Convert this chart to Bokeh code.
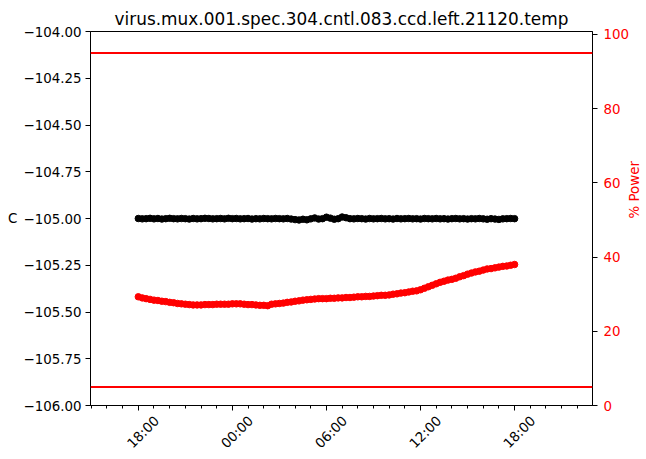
import math
from datetime import datetime, timedelta
from bokeh.plotting import figure
from bokeh.models import (LinearAxis, Range1d, Span, FixedTicker,
                          CustomJSTickFormatter, ColumnDataSource)
from bokeh.embed import file_html
from bokeh.resources import INLINE

title_text = "virus.mux.001.spec.304.cntl.083.ccd.left.21120.temp"

# one row per hour, 15-minute samples, 18:00 .. 18:00 next day
temp_c = [
    -105.000, -105.002, -105.001, -104.999,   # 18
    -105.002, -105.000, -105.003, -105.001,   # 19
    -104.999, -105.001, -105.002, -105.000,   # 20
    -105.001, -105.003, -105.000, -105.002,   # 21
    -105.001, -104.999, -105.000, -105.002,   # 22
    -105.001, -105.000, -105.002, -104.999,   # 23
    -105.001, -105.000, -105.002, -105.001,   # 00
    -105.000, -105.003, -105.001, -105.002,   # 01
    -105.000, -105.001, -105.002, -105.000,   # 02
    -105.001, -105.002, -105.000, -105.003,   # 03
    -105.006, -105.008, -105.004, -105.007,   # 04
    -105.002, -104.997, -105.003, -105.001,   # 05
    -104.993, -104.998, -105.004, -105.001,   # 06
    -104.992, -104.996, -105.001, -105.002,   # 07
    -105.000, -105.001, -105.003, -105.000,   # 08
    -105.002, -105.001, -105.000, -105.002,   # 09
    -105.001, -105.003, -105.000, -105.002,   # 10
    -105.001, -105.000, -105.002, -105.001,   # 11
    -105.003, -105.000, -105.001, -105.002,   # 12
    -105.000, -105.002, -105.001, -105.003,   # 13
    -105.001, -105.000, -105.002, -105.001,   # 14
    -105.003, -105.001, -105.002, -105.000,   # 15
    -105.002, -105.004, -105.001, -105.003,   # 16
    -105.005, -105.002, -105.001, -105.000,   # 17
    -105.001,                                 # 18
]

power_pct = [
    29.3, 29.0, 28.8, 28.6,   # 18
    28.4, 28.3, 28.1, 28.0,   # 19
    27.8, 27.7, 27.5, 27.4,   # 20
    27.3, 27.2, 27.1, 27.1,   # 21
    27.1, 27.2, 27.2, 27.2,   # 22
    27.3, 27.3, 27.3, 27.3,   # 23
    27.4, 27.4, 27.4, 27.3,   # 00
    27.2, 27.2, 27.1, 27.0,   # 01
    27.0, 26.9, 27.3, 27.4,   # 02
    27.5, 27.6, 27.8, 27.9,   # 03
    28.1, 28.2, 28.4, 28.5,   # 04
    28.6, 28.7, 28.8, 28.8,   # 05
    28.8, 28.9, 28.9, 29.0,   # 06
    29.0, 29.1, 29.1, 29.2,   # 07
    29.3, 29.3, 29.4, 29.4,   # 08
    29.5, 29.6, 29.7, 29.7,   # 09
    29.8, 30.0, 30.1, 30.3,   # 10
    30.4, 30.6, 30.8, 30.9,   # 11
    31.2, 31.6, 32.0, 32.4,   # 12
    32.8, 33.2, 33.5, 33.8,   # 13
    34.0, 34.3, 34.7, 35.0,   # 14
    35.4, 35.7, 36.0, 36.2,   # 15
    36.5, 36.8, 36.9, 37.1,   # 16
    37.3, 37.5, 37.6, 37.8,   # 17
    38.0,                     # 18
]

t0 = datetime(2021, 1, 20, 18, 0)
times = [t0 + timedelta(minutes=15 * i) for i in range(len(power_pct))]

power_limits = [5, 95]

temp_ticks = [-106.0, -105.75, -105.5, -105.25, -105.0, -104.75, -104.5, -104.25, -104.0]
temp_tick_labels = ["\u2212106.00", "\u2212105.75", "\u2212105.50", "\u2212105.25", "\u2212105.00",
                    "\u2212104.75", "\u2212104.50", "\u2212104.25", "\u2212104.00"]
power_ticks = [0, 20, 40, 60, 80, 100]
time_ticks = [t0 + timedelta(hours=h) for h in (0, 6, 12, 18, 24)]
time_tick_labels = ["18:00", "00:00", "06:00", "12:00", "18:00"]
time_minor = [t0 + timedelta(hours=h) for h in range(-3, 30)]

epoch = datetime(1970, 1, 1)
def ms(d):
    return (d - epoch).total_seconds() * 1000.0

FONT = "DejaVu Sans"
TICK_FS = "13.4px"

x_start = t0 - timedelta(hours=3.05)
x_end = t0 + timedelta(hours=24 + 4.97)

p = figure(x_axis_type="datetime", output_backend="svg", toolbar_location=None,
           frame_width=502, frame_height=374,
           min_border_left=90, min_border_right=54, min_border_top=31, min_border_bottom=54,
           x_range=Range1d(x_start, x_end), y_range=Range1d(-106.0, -104.0),
           title=title_text)
p.background_fill_color = "white"
p.border_fill_color = "white"
p.outline_line_color = "black"
p.outline_line_width = 1
p.grid.visible = False

p.title.text_font = FONT
p.title.text_font_size = "16.9px"
p.title.text_font_style = "normal"
p.title.align = "center"
p.title.text_color = "black"
p.title.standoff = 6

src = ColumnDataSource(dict(t=times, temp=temp_c, power=power_pct))

p.extra_y_ranges = {"power": Range1d(0, 100.8)}

for lim in power_limits:
    p.add_layout(Span(location=lim, dimension="width", y_range_name="power",
                      line_color="red", line_width=2))

p.scatter("t", "temp", source=src, size=6.5, color="black")
p.scatter("t", "power", source=src, size=6.5, color="red", y_range_name="power")

LOOKUP = "const i = tvals.indexOf(tick); return i >= 0 ? labs[i] : '';"

# x axis: ticks only (labels on a second axis so rotated labels are centred under ticks)
xa = p.xaxis[0]
xa.ticker = FixedTicker(ticks=[ms(d) for d in time_ticks], minor_ticks=[ms(d) for d in time_minor])
xa.formatter = CustomJSTickFormatter(code="return '';")
xa.major_label_text_font_size = "0px"
xa.major_label_standoff = 0

LABEL_SHIFT_H = 1.18
label_pos = [ms(d + timedelta(hours=LABEL_SHIFT_H)) for d in time_ticks]
xb = LinearAxis(ticker=FixedTicker(ticks=label_pos),
                formatter=CustomJSTickFormatter(args=dict(tvals=label_pos, labs=time_tick_labels), code=LOOKUP))
xb.axis_line_color = None
xb.major_tick_line_color = None
xb.minor_tick_line_color = None
xb.major_tick_out = 0
xb.major_tick_in = 0
xb.minor_tick_out = 0
xb.minor_tick_in = 0
xb.major_label_orientation = math.pi / 4
xb.major_label_standoff = 8
xb.major_label_text_font = FONT
xb.major_label_text_font_size = TICK_FS
xb.major_label_text_color = "black"
p.add_layout(xb, "below")

# left axis
ya = p.yaxis[0]
ya.ticker = FixedTicker(ticks=temp_ticks)
ya.formatter = CustomJSTickFormatter(args=dict(tvals=temp_ticks, labs=temp_tick_labels), code=LOOKUP)
ya.axis_label = "C"
ya.axis_label_orientation = "horizontal"

ra = LinearAxis(y_range_name="power", axis_label="% Power", ticker=FixedTicker(ticks=power_ticks))
ra.axis_label_orientation = math.pi / 2
p.add_layout(ra, "right")

for ax in (xa, ya, ra):
    ax.axis_line_color = "black"
    ax.major_tick_line_color = "black"
    ax.minor_tick_line_color = "black"
    ax.major_tick_in = 0
    ax.major_tick_out = 5
    ax.minor_tick_in = 0
    ax.minor_tick_out = 3
    ax.axis_label_text_font = FONT
    ax.axis_label_text_font_size = TICK_FS
    ax.axis_label_text_font_style = "normal"
    ax.axis_label_text_color = "black"

for ax in (ya, ra):
    ax.major_label_text_font = FONT
    ax.major_label_text_font_size = TICK_FS
    ax.major_label_text_color = "black"
    ax.major_label_standoff = 4
    ax.minor_tick_line_color = None

ya.axis_label_standoff = 3
ra.major_label_standoff = 6
ra.axis_label_standoff = 2
ra.major_label_text_color = "red"
ra.axis_label_text_color = "red"

open("out.html", "w").write(file_html(p, INLINE))
